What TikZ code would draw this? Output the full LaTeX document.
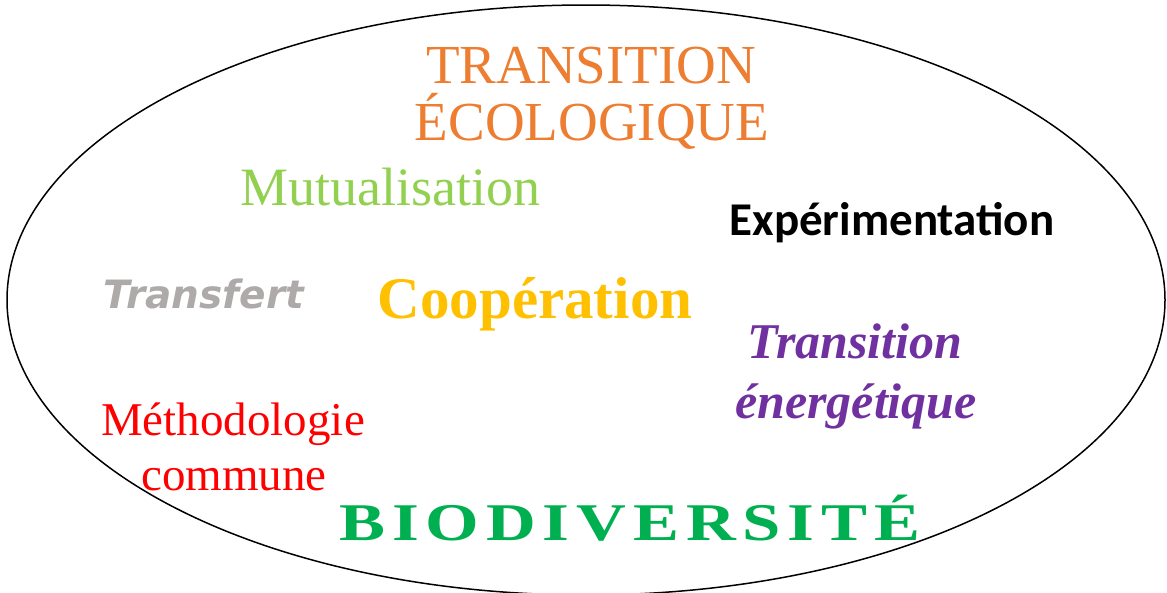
\documentclass[tikz,border=0pt]{standalone}
\usepackage{fontspec}
\setmainfont{Liberation Serif}
\newfontfamily\calfont{Carlito}
\newfontfamily\verfont{DejaVu Sans}
\newfontfamily\biofont[LetterSpace=10]{Liberation Serif}
\definecolor{ecoorange}{HTML}{ED7D31}
\definecolor{mutgreen}{HTML}{92D050}
\definecolor{coopyellow}{HTML}{FFC000}
\definecolor{enerpurple}{HTML}{7030A0}
\definecolor{biogreen}{HTML}{00B050}
\definecolor{transgray}{HTML}{AEAAAA}

\begin{document}
\begin{tikzpicture}[x=1pt,y=-1pt,every node/.style={anchor=base,inner sep=0pt}]
  \useasboundingbox (0,0) rectangle (1167,592);
  \draw[line width=1.5pt] (586,300) ellipse [x radius=579pt, y radius=295pt];
  \node[text=ecoorange,font=\fontsize{55}{60}\selectfont] (transition) at (591,83) {TRANSITION};
  \node[text=ecoorange,font=\fontsize{55}{60}\selectfont] (ecologique) at (592,140) {ÉCOLOGIQUE};
  \node[text=mutgreen,font=\fontsize{54}{60}\selectfont] (mutualisation) at (390,205) {Mutualisation};
  \node[font=\calfont\bfseries\fontsize{47}{50}\selectfont] (experimentation) at (892,235) {Expérimentation};
  \node[text=transgray,font=\verfont\bfseries\itshape\fontsize{39}{40}\selectfont] (transfert) at (204,308) {Transfert};
  \node[text=coopyellow,font=\bfseries\fontsize{59}{60}\selectfont] (cooperation) at (535,318) {Coopération};
  \node[text=enerpurple,font=\bfseries\itshape\fontsize{50}{55}\selectfont] (transitionE) at (855,358) {Transition};
  \node[text=enerpurple,font=\bfseries\itshape\fontsize{50}{55}\selectfont] (energetique) at (856,418) {énergétique};
  \node[text=red,font=\fontsize{47}{50}\selectfont] (methodologie) at (233,435) {Méthodologie};
  \node[text=red,font=\fontsize{47}{50}\selectfont] (commune) at (234,490) {commune};
  \node[text=biogreen,font=\biofont\bfseries\fontsize{53}{55}\selectfont,xscale=1.3,transform shape] (biodiversite) at (630,540) {BIODIVERSITÉ};
\end{tikzpicture}
\end{document}
